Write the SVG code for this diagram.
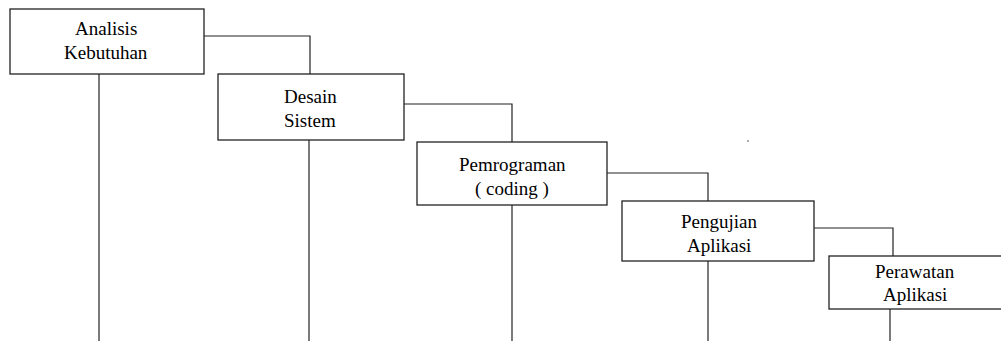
<svg xmlns="http://www.w3.org/2000/svg" width="1001" height="341" viewBox="0 0 1001 341">
<rect width="1001" height="341" fill="#fff"/>
<g id="connectors" fill="none" stroke="#222" stroke-width="1.2">
<path d="M204 36 H310 V74"/>
<path d="M99 74 V341"/>
<path d="M404 104 H512 V142"/>
<path d="M309 140 V341"/>
<path d="M607 173 H708 V201"/>
<path d="M512 205 V341"/>
<path d="M814 228 H893 V256"/>
<path d="M708 261 V341"/>
<path d="M890 309 V341"/>
</g>
<g id="analisis">
<rect fill="#fff" stroke="#222" stroke-width="1.3" x="10" y="9" width="194" height="65"/>
<text font-family="Liberation Serif" font-size="19" x="75" y="35">Analisis</text>
<text font-family="Liberation Serif" font-size="19" x="64" y="59">Kebutuhan</text>
</g>
<g id="desain">
<rect fill="#fff" stroke="#222" stroke-width="1.3" x="218" y="74" width="186" height="66"/>
<text font-family="Liberation Serif" font-size="19" x="284" y="103">Desain</text>
<text font-family="Liberation Serif" font-size="19" x="284" y="127">Sistem</text>
</g>
<g id="pemrograman">
<rect fill="#fff" stroke="#222" stroke-width="1.3" x="417" y="142" width="190" height="63"/>
<text font-family="Liberation Serif" font-size="19" x="459" y="171">Pemrograman</text>
<text font-family="Liberation Serif" font-size="19" x="475" y="195">( coding )</text>
</g>
<g id="pengujian">
<rect fill="#fff" stroke="#222" stroke-width="1.3" x="622" y="201" width="192" height="60"/>
<text font-family="Liberation Serif" font-size="19" x="681" y="228">Pengujian</text>
<text font-family="Liberation Serif" font-size="19" x="687" y="252">Aplikasi</text>
</g>
<g id="perawatan">
<rect fill="#fff" stroke="#222" stroke-width="1.3" x="829" y="256" width="175" height="53"/>
<text font-family="Liberation Serif" font-size="19" x="875" y="278">Perawatan</text>
<text font-family="Liberation Serif" font-size="19" x="883" y="301">Aplikasi</text>
</g>
<circle cx="748" cy="141" r="0.8" fill="#444"/>
</svg>
